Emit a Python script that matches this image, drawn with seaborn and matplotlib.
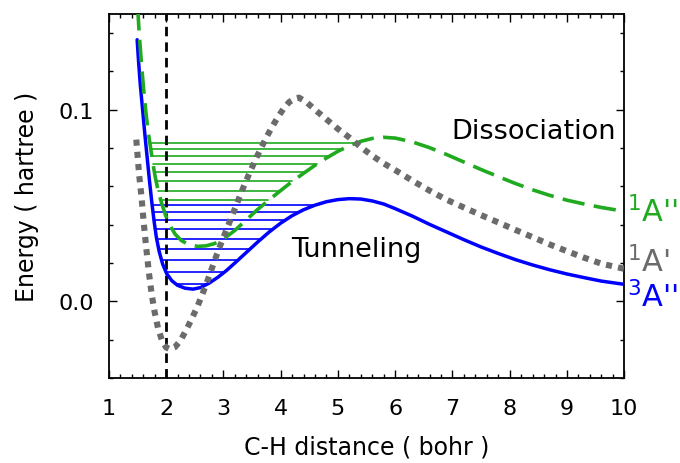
import numpy as np
import pandas as pd
import matplotlib
matplotlib.use("Agg")
import matplotlib.pyplot as plt
from matplotlib.ticker import MultipleLocator
import seaborn as sns

# Potential energy curves along the C-H stretch (bohr, hartree)
x_3app = [1.495, 1.52, 1.55, 1.59, 1.63, 1.67, 1.71, 1.75, 1.79, 1.83, 1.88, 1.94,
          2.01, 2.10, 2.20, 2.33, 2.47, 2.60, 2.75, 2.90, 3.05, 3.20, 3.40, 3.60,
          3.80, 4.00, 4.20, 4.40, 4.60, 4.80, 5.00, 5.20, 5.40, 5.60, 5.80, 6.00,
          6.30, 6.60, 6.90, 7.20, 7.50, 7.80, 8.10, 8.40, 8.70, 9.00, 9.30, 9.60, 10.0]
e_3app = [0.1365, 0.125, 0.113, 0.100, 0.087, 0.075, 0.063, 0.052, 0.042, 0.0335, 0.026, 0.0195,
          0.0145, 0.0108, 0.0084, 0.0069, 0.0064, 0.0072, 0.0095, 0.0125, 0.0160, 0.0200, 0.0255, 0.0310,
          0.0362, 0.0408, 0.0447, 0.0478, 0.0502, 0.0520, 0.0531, 0.0536, 0.0534, 0.0524, 0.0508, 0.0484,
          0.0445, 0.0402, 0.0362, 0.0322, 0.0284, 0.0250, 0.0218, 0.0190, 0.0165, 0.0143, 0.0124, 0.0106, 0.0089]

x_1app = [1.505, 1.53, 1.57, 1.61, 1.65, 1.69, 1.73, 1.77, 1.81, 1.86, 1.92, 1.99,
          2.07, 2.16, 2.27, 2.40, 2.55, 2.70, 2.85, 3.00, 3.20, 3.40, 3.60, 3.80,
          4.00, 4.20, 4.40, 4.60, 4.80, 5.00, 5.20, 5.40, 5.60, 5.80, 6.00, 6.30,
          6.60, 6.90, 7.20, 7.50, 7.80, 8.10, 8.40, 8.70, 9.00, 9.30, 9.60, 10.0]
e_1app = [0.153, 0.140, 0.124, 0.110, 0.098, 0.088, 0.0800, 0.0720, 0.0650, 0.0580, 0.0515, 0.0450,
          0.0395, 0.0350, 0.0317, 0.0296, 0.0287, 0.0290, 0.0302, 0.0325, 0.0370, 0.0425, 0.0480, 0.0530,
          0.0578, 0.0625, 0.0668, 0.0710, 0.0748, 0.0783, 0.0812, 0.0835, 0.0850, 0.0856, 0.0852, 0.0832,
          0.0802, 0.0766, 0.0727, 0.0688, 0.0651, 0.0615, 0.0582, 0.0553, 0.0528, 0.0508, 0.0490, 0.0470]

x_1ap = [1.48, 1.50, 1.53, 1.57, 1.61, 1.65, 1.70, 1.75, 1.80, 1.86, 1.93, 2.00,
         2.07, 2.15, 2.25, 2.35, 2.45, 2.55, 2.65, 2.75, 2.85, 2.95, 3.05, 3.15,
         3.25, 3.35, 3.45, 3.55, 3.65, 3.75, 3.85, 3.95, 4.05, 4.15, 4.25, 4.32,
         4.45, 4.60, 4.80, 5.00, 5.20, 5.40, 5.60, 5.80, 6.00, 6.30, 6.60, 6.90,
         7.20, 7.50, 7.80, 8.10, 8.40, 8.70, 9.00, 9.30, 9.60, 10.0]
e_1ap = [0.0844, 0.077, 0.066, 0.0548, 0.041, 0.029, 0.015, 0.0035, -0.0055, -0.0140, -0.0205, -0.0240,
         -0.0250, -0.0240, -0.0205, -0.0150, -0.0090, -0.0025, 0.0050, 0.0130, 0.0215, 0.0295, 0.0370, 0.0445,
         0.0520, 0.0595, 0.0665, 0.0732, 0.0795, 0.0855, 0.0910, 0.0960, 0.1005, 0.1040, 0.1058, 0.1063,
         0.1040, 0.1000, 0.0950, 0.0900, 0.0855, 0.0805, 0.0760, 0.0720, 0.0685, 0.0630, 0.0578, 0.0530,
         0.0490, 0.0450, 0.0412, 0.0373, 0.0335, 0.0297, 0.0262, 0.0228, 0.0197, 0.0170]

# Vibrational levels in each well (hartree)
levels_1app = [0.0827, 0.0797, 0.0760, 0.0717, 0.0673, 0.0626, 0.0578, 0.0527]
levels_3app = [0.0502, 0.0467, 0.0423, 0.0379, 0.0323, 0.0271, 0.0214, 0.0155, 0.0089]

r_eq = 2.0
x_ticks = [1, 2, 3, 4, 5, 6, 7, 8, 9, 10]
y_ticks = [0.0, 0.1]
y_tick_labels = ["0.0", "0.1"]

c_blue = "#0000ff"
c_green = "#1faa1f"
c_gray = "#6b6b6b"

sns.set_theme(style="ticks")
plt.rcParams["font.family"] = ["DejaVu Sans"]


def turning_points(xs, es, levels):
    """Classical turning points of each level on the walls of the well."""
    xs = np.asarray(xs)
    es = np.asarray(es)
    i_min = int(np.argmin(es))
    i_max = i_min + int(np.argmax(es[i_min:]))
    lx, le = xs[:i_min + 1][::-1], es[:i_min + 1][::-1]
    rx, re_ = xs[i_min:i_max + 1], es[i_min:i_max + 1]
    rows = []
    for k, lv in enumerate(levels):
        rows.append({"level": k, "x": np.interp(lv, le, lx), "e": lv})
        rows.append({"level": k, "x": np.interp(lv, re_, rx), "e": lv})
    return pd.DataFrame(rows)


fig = plt.figure(figsize=(6.8, 4.64), dpi=100)
ax = fig.add_axes([0.160, 0.183, 0.758, 0.785])

lv_g = turning_points(x_1app, e_1app, levels_1app)
lv_b = turning_points(x_3app, e_3app, levels_3app)
sns.lineplot(data=lv_g, x="x", y="e", units="level", estimator=None, sort=False,
             color=c_green, linewidth=1.2, ax=ax, zorder=2)
sns.lineplot(data=lv_b, x="x", y="e", units="level", estimator=None, sort=False,
             color=c_blue, linewidth=1.2, ax=ax, zorder=2)

ax.axvline(r_eq, color="black", linewidth=2.0, dashes=(3.4, 2.2), zorder=3)

sns.lineplot(x=x_3app, y=e_3app, sort=False, estimator=None, color=c_blue,
             linewidth=2.5, ax=ax, zorder=4)
ax.lines[-1].set_solid_joinstyle("round")
sns.lineplot(x=x_1app, y=e_1app, sort=False, estimator=None, color=c_green,
             linewidth=2.6, ax=ax, zorder=5)
ax.lines[-1].set_dashes((6.2, 2.6))
sns.lineplot(x=x_1ap, y=e_1ap, sort=False, estimator=None, color=c_gray,
             linewidth=4.4, ax=ax, zorder=6)
ax.lines[-1].set_dashes((1.0, 1.0))
ax.lines[-1].set_dash_capstyle("butt")

ax.set_xlim(1, 10)
ax.set_ylim(-0.04, 0.15)
ax.set_xticks(x_ticks)
ax.set_yticks(y_ticks)
ax.set_yticklabels(y_tick_labels)
ax.xaxis.set_minor_locator(MultipleLocator(0.2))
ax.yaxis.set_minor_locator(MultipleLocator(0.02))
ax.tick_params(which="both", direction="in", top=True, right=True,
               colors="black", labelsize=16, width=1.0)
ax.tick_params(which="major", length=6)
ax.tick_params(axis="x", which="major", pad=14)
ax.tick_params(axis="y", which="major", pad=11)
ax.tick_params(which="minor", length=3)
for s in ax.spines.values():
    s.set_color("black")
    s.set_linewidth(1.3)

ax.set_xlabel("C-H distance ( bohr )", fontsize=17, labelpad=12, color="black")
ax.set_ylabel("Energy ( hartree )", fontsize=17, labelpad=14, color="black")

ax.text(8.41, 0.089, "Dissociation", fontsize=19.5, ha="center", va="center", color="black")
ax.text(5.32, 0.0275, "Tunneling", fontsize=19.5, ha="center", va="center", color="black")

ax.text(10.04, 0.047, "$^{1}$A''", fontsize=22, ha="left", va="center", color=c_green, clip_on=False)
ax.text(10.04, 0.021, "$^{1}$A'", fontsize=22, ha="left", va="center", color=c_gray, clip_on=False)
ax.text(10.04, 0.0025, "$^{3}$A''", fontsize=22, ha="left", va="center", color=c_blue, clip_on=False)

fig.savefig("out.png", dpi=100, facecolor="white")
